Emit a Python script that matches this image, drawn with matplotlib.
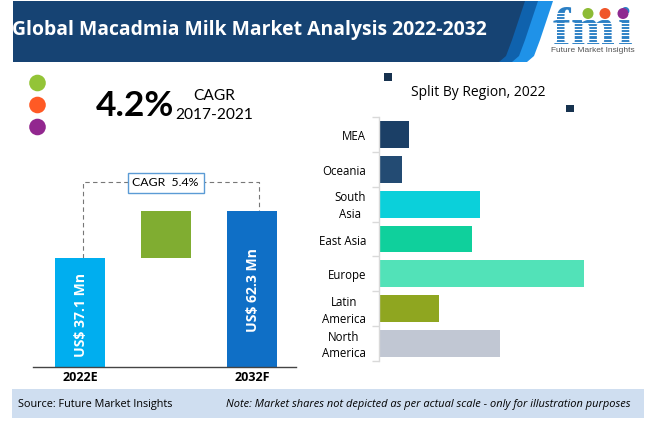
import matplotlib
matplotlib.use("Agg")
import numpy as np
from matplotlib import pyplot as plt
from matplotlib.patches import Polygon, Rectangle, Circle, Arc
from matplotlib.transforms import ScaledTranslation

W, H = 650, 446

# left chart, bar heights are not to scale in the original so read from the picture
years = ["2022E", "2032F"]
year_heights = [1.09, 1.56]
year_labels = ["US$ 37.1 Mn", "US$ 62.3 Mn"]
step_bottom = 1.09
step_height = 0.47

# right chart, top to bottom
regions = ["MEA", "Oceania", "South\nAsia", "East Asia", "Europe", "Latin\nAmerica", "North\nAmerica"]
region_values = [4.8, 3.7, 16.0, 14.7, 32.4, 9.5, 19.2]
region_colors = ["#1b3f66", "#234b73", "#0bd0da", "#0fd09c", "#52e2b8", "#8fa620", "#c1c7d3"]

fig = plt.figure(figsize=(W / 100, H / 100), dpi=100, facecolor="white")

# overlay in pixel coords for the decoration
bg = fig.add_axes([0, 0, 1, 1])
bg.set_xlim(0, W)
bg.set_ylim(H, 0)
bg.axis("off")

# header banner
bg.add_patch(Polygon([[530, 1], [553, 1], [540, 40], [534, 56], [527, 62], [505, 62]], color="#1f92e8", lw=0))
bg.add_patch(Polygon([[515, 1], [538, 1], [525, 40], [519, 56], [512, 62], [490, 62]], color="#0f62ad", lw=0))
bg.add_patch(Polygon([[13, 1], [525, 1], [512, 40], [506, 56], [499, 62], [13, 62]], color="#164373", lw=0))
bg.text(12, 30, "Global Macadmia Milk Market Analysis 2022-2032", color="white",
        fontsize=13.95, fontweight="bold", family="Open Sans", va="center")

# logo
for lx, word in [(553, "f"), (571, "m"), (618, "i")]:
    bg.text(lx, 44, word, color="#2b7fc4", fontsize=38, fontweight="bold",
            family="Liberation Serif", va="baseline", ha="left")
for y in np.arange(13, 46, 3.2):
    bg.plot([550, 640], [y, y], color="white", lw=0.8, zorder=4)
bg.add_patch(Arc((622, 4), 30, 30, theta1=210, theta2=330, color="#2b7fc4", lw=0.8, zorder=4))
for cx, c in [(588, "#8dbb35"), (605, "#f0562a"), (623, "#8e2a90")]:
    bg.add_patch(Circle((cx, 13.5), 5.5, color=c, lw=0, zorder=5))
bg.text(593, 51, "Future Market Insights", color="#555555", fontsize=6.0,
        family="Liberation Sans", ha="center", va="center")

# dots
for cy, c in [(83, "#93c437"), (105, "#ff5a25"), (127, "#92278f")]:
    bg.add_patch(Circle((37.5, cy), 8.3, color=c, lw=0))

# big CAGR
bg.text(96, 106, "4.2%", color="black", fontsize=25.5, fontweight="bold", family="Lato", va="center")
bg.text(214, 96, "CAGR", color="black", fontsize=11.2, family="Lato", ha="center", va="center")
bg.text(214, 115, "2017-2021", color="black", fontsize=11.2, family="Lato", ha="center", va="center")

# dashed bracket
bg.plot([82.5, 82.5, 258.5, 258.5], [258, 182, 182, 211], color="#777777", lw=0.8, ls=(0, (4, 3)))
bg.add_patch(Rectangle((127.5, 172.5), 76, 20, fc="white", ec="#5b9bd5", lw=1, zorder=3))
bg.text(165.5, 182.5, "CAGR  5.4%", color="black", fontsize=8.8, family="Lato",
        ha="center", va="center", zorder=4)

# squares near the region title
bg.add_patch(Rectangle((384, 73), 8, 8, color="#17324f", lw=0))
bg.add_patch(Rectangle((566, 105), 8, 7, color="#17324f", lw=0))
bg.text(478.5, 92, "Split By Region, 2022", color="black", fontsize=10,
        family="Open Sans", ha="center", va="center")

# footer
bg.add_patch(Rectangle((12, 389), 632, 29, color="#cfdef0", lw=0))
bg.text(18, 404, "Source: Future Market Insights", color="black", fontsize=7.8,
        family="Open Sans", va="center")
bg.text(631, 404, "Note: Market shares not depicted as per actual scale - only for illustration purposes",
        color="black", fontsize=7.93, family="Open Sans", style="italic", ha="right", va="center")

# left chart
ax = fig.add_axes([33 / W, 1 - 367 / H, 263 / W, 200 / H])
ax.patch.set_alpha(0)
ax.set_xlim(33, 296)
ax.set_ylim(0, 2.0)
bar_x = [80, 252]
ax.bar(bar_x, year_heights, width=50, color=["#00aeef", "#0f6fc6"])
ax.bar([166], [step_height], width=50, bottom=step_bottom, color="#80ad31")
for x, h, lab in zip(bar_x, year_heights, year_labels):
    ax.text(x + 1, 0.1 if h < 1.5 else 0.35, lab, color="white", rotation=90, fontsize=10.1, fontweight="bold",
            family="Open Sans", ha="center", va="bottom")
for s in ["top", "left", "right"]:
    ax.spines[s].set_visible(False)
ax.spines["bottom"].set_color("#444444")
ax.spines["bottom"].set_linewidth(1)
ax.set_yticks([])
ax.set_xticks(bar_x)
ax.set_xticklabels(years, fontsize=9, fontweight="bold", family="Open Sans")
ax.tick_params(axis="x", length=0, pad=3)

# right chart
ax2 = fig.add_axes([378.5 / W, 1 - 361 / H, 221.5 / W, 244 / H])
ax2.patch.set_alpha(0)
ypos = np.arange(len(regions))
ax2.barh(ypos, region_values, height=0.77, color=region_colors)
ax2.set_xlim(0, 35)
ax2.set_ylim(len(regions) - 0.5, -0.5)
for s in ["top", "bottom", "right"]:
    ax2.spines[s].set_visible(False)
ax2.spines["left"].set_color("#d9d9d9")
ax2.spines["left"].set_linewidth(1)
ax2.set_xticks([])
ax2.set_yticks(ypos)
ax2.set_yticklabels(regions, fontsize=8.3, family="Open Sans", ha="right", ma="center", va="center", linespacing=1.35)
ax2.tick_params(axis="y", length=0, pad=9)
ax2.set_yticks(np.arange(-0.5, len(regions)), minor=True)
ax2.tick_params(axis="y", which="minor", length=5, color="#d9d9d9", width=1)
# nudge the labels down a little
for lab in ax2.get_yticklabels():
    lab.set_transform(lab.get_transform() + ScaledTranslation(0, -1.5 / 72, fig.dpi_scale_trans))

fig.savefig("out.png", dpi=100)
